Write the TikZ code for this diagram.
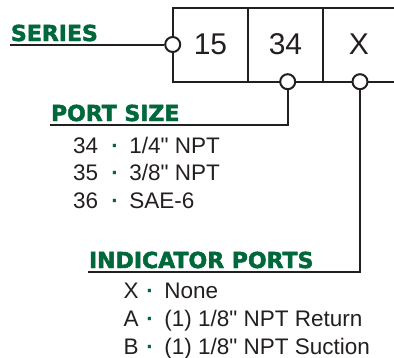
\documentclass[tikz,border=0pt]{standalone}
\usepackage{fontspec}
\setmainfont{Liberation Sans}[Ligatures=TeXOff]
\newfontfamily\headfont{DejaVu Sans Bold}[FakeBold=2.2]
\definecolor{hgreen}{RGB}{0,104,58}
\definecolor{ink}{RGB}{35,31,32}
\begin{document}
\begin{tikzpicture}[x=1pt,y=-1pt,line width=2pt,
  heading/.style={anchor=base west,inner sep=0pt,text=hgreen,font=\headfont\fontsize{22}{22}\selectfont},
  item/.style={anchor=base west,inner sep=0pt,text=ink,font=\fontsize{22.5}{24}\selectfont},
  sep/.style={anchor=base,inner sep=0pt,text=hgreen,font=\bfseries\fontsize{22.5}{24}\selectfont},
  cell/.style={inner sep=0pt,text=ink,font=\fontsize{30}{30}\selectfont},
  pin/.style={circle,draw=ink,fill=white,minimum size=15pt,inner sep=0pt,line width=2pt},
  wire/.style={draw=ink,line width=2pt}]
\useasboundingbox (0,0) rectangle (394,357);
% code box (open on the right)
\draw[wire] (396,7.5) -- (172.7,7.5) -- (172.7,81.7) -- (396,81.7);
\draw[wire] (248.3,7.5) -- (248.3,81.7);
\draw[wire] (322.7,7.5) -- (322.7,81.7);
\node[cell] (n15) at (210.5,44.5) {15};
\node[cell] (n34) at (285.5,44.5) {34};
\node[cell] (nX) at (359,44.5) {X};
% pins
\node[pin] (c1) at (172.7,44.5) {};
\node[pin] (c2) at (287.7,81.7) {};
\node[pin] (c3) at (360,81.7) {};
% headings
\node[heading] (hs) at (10,41) {SERIES};
\node[heading] (hp) at (50,121) {PORT SIZE};
\node[heading] (hi) at (88,268) {INDICATOR PORTS};
\coordinate (s0) at (10,44.5);
\coordinate (p0) at (50,125);
\coordinate (i0) at (88,272);
\draw[wire] (s0) -- (c1.west);
\draw[wire] (c2.south) |- (p0);
\draw[wire] (c3.south) |- (i0);
% port size items
\node[item] (a1) at (72,153.3) {34};
\node[sep] (d1) at (115,153.3) {·};
\node[item] (t1) at (128.3,153.3) {1/4" NPT};
\node[item] (a2) at (72,180.7) {35};
\node[sep] (d2) at (115,180.7) {·};
\node[item] (t2) at (128.3,180.7) {3/8" NPT};
\node[item] (a3) at (72,208.3) {36};
\node[sep] (d3) at (115,208.3) {·};
\node[item] (t3) at (128.3,208.3) {SAE-6};
% indicator items
\node[item] (b1) at (122.7,298.3) {X};
\node[sep] (e1) at (150,298.3) {·};
\node[item] (u1) at (163.3,298.3) {None};
\node[item] (b2) at (122.7,326.7) {A};
\node[sep] (e2) at (150,326.7) {·};
\node[item] (u2) at (163.3,326.7) {(1) 1/8" NPT Return};
\node[item] (b3) at (122.7,354.5) {B};
\node[sep] (e3) at (150,354.5) {·};
\node[item] (u3) at (163.3,354.5) {(1) 1/8" NPT Suction};
\end{tikzpicture}
\end{document}
